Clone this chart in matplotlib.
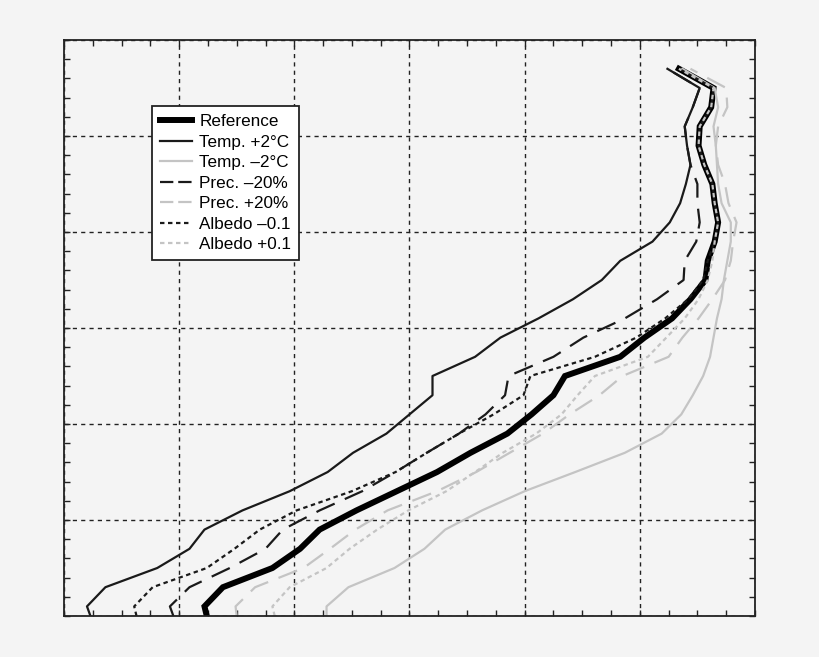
import matplotlib
matplotlib.use("Agg")
import matplotlib.pyplot as plt
from matplotlib.ticker import MultipleLocator, NullFormatter

plt.rcParams['font.family'] = ['Liberation Sans', 'DejaVu Sans']

# elevation levels (band midpoints, plus the base)
levels = [0.0, 0.1, 0.3, 0.5, 0.7, 0.9, 1.1, 1.3, 1.5, 1.7, 1.9, 2.1, 2.3, 2.5, 2.7,
          2.9, 3.1, 3.3, 3.5, 3.7, 3.9, 4.1, 4.3, 4.5, 4.7, 4.9, 5.1, 5.3, 5.5, 5.7]

reference = [1.24, 1.22, 1.38, 1.81, 2.05, 2.22, 2.54, 2.89, 3.24, 3.53, 3.85, 4.06, 4.25, 4.35, 4.83,
             5.04, 5.28, 5.44, 5.57, 5.59, 5.65, 5.68, 5.65, 5.63, 5.56, 5.51, 5.52, 5.62, 5.64, 5.34]
temp_plus2 = [0.23, 0.20, 0.36, 0.81, 1.09, 1.22, 1.55, 1.96, 2.29, 2.51, 2.80, 3.00, 3.20, 3.20, 3.57,
              3.79, 4.12, 4.42, 4.67, 4.83, 5.11, 5.26, 5.35, 5.40, 5.44, 5.41, 5.39, 5.46, 5.52, 5.24]
temp_minus2 = [2.28, 2.28, 2.47, 2.87, 3.13, 3.31, 3.63, 4.00, 4.44, 4.87, 5.19, 5.36, 5.46, 5.55, 5.61,
               5.64, 5.67, 5.71, 5.73, 5.76, 5.79, 5.79, 5.71, 5.68, 5.67, 5.66, 5.64, 5.68, 5.65, 5.37]
prec_minus20 = [0.95, 0.92, 1.09, 1.44, 1.75, 1.90, 2.22, 2.59, 2.88, 3.15, 3.43, 3.66, 3.83, 3.86, 4.25,
                4.51, 4.87, 5.15, 5.38, 5.39, 5.49, 5.52, 5.50, 5.50, 5.44, 5.41, 5.39, 5.46, 5.52, 5.24]
prec_plus20 = [1.50, 1.49, 1.66, 2.08, 2.31, 2.53, 2.81, 3.24, 3.58, 3.87, 4.16, 4.39, 4.65, 4.85, 5.25,
               5.37, 5.51, 5.63, 5.74, 5.79, 5.81, 5.84, 5.77, 5.74, 5.68, 5.66, 5.68, 5.76, 5.75, 5.44]
albedo_minus01 = [0.63, 0.61, 0.77, 1.24, 1.48, 1.70, 2.02, 2.50, 2.88, 3.15, 3.43, 3.73, 3.99, 4.05, 4.61,
                  4.97, 5.22, 5.42, 5.55, 5.59, 5.65, 5.68, 5.65, 5.63, 5.56, 5.51, 5.52, 5.62, 5.64, 5.34]
albedo_plus01 = [1.83, 1.81, 1.96, 2.28, 2.48, 2.72, 2.99, 3.32, 3.57, 3.81, 4.10, 4.32, 4.46, 4.61, 5.07,
                 5.23, 5.39, 5.51, 5.59, 5.63, 5.65, 5.68, 5.65, 5.63, 5.56, 5.51, 5.52, 5.62, 5.64, 5.34]

labels = ["Reference", "Temp. +2\u00b0C", "Temp. \u20132\u00b0C", "Prec. \u201320%",
          "Prec. +20%", "Albedo \u20130.1", "Albedo +0.1"]

bg = "#f4f4f4"
grey = "#c4c4c4"
dash = (0, (9, 5))
dot = (0, (2, 1.6))

fig = plt.figure(figsize=(8.2, 6.57), dpi=100, facecolor=bg)
ax = fig.add_axes([0.078, 0.0624, 0.8427, 0.8767], facecolor=bg)

ax.plot(reference, levels, color="black", lw=4.3, solid_joinstyle="miter", label=labels[0])
ax.plot(temp_plus2, levels, color="#1a1a1a", lw=1.6, label=labels[1])
ax.plot(temp_minus2, levels, color=grey, lw=1.6, label=labels[2])
ax.plot(prec_minus20, levels, color="#1a1a1a", lw=1.6, linestyle=dash, label=labels[3])
ax.plot(prec_plus20, levels, color=grey, lw=1.6, linestyle=dash, label=labels[4])
ax.plot(albedo_minus01, levels, color="#1a1a1a", lw=1.6, linestyle=dot, label=labels[5])
ax.plot(albedo_plus01, levels, color=grey, lw=1.6, linestyle=dot, label=labels[6])

ax.set_xlim(0, 6)
ax.set_ylim(0, 6)
ax.xaxis.set_major_locator(MultipleLocator(1))
ax.xaxis.set_minor_locator(MultipleLocator(0.25))
ax.yaxis.set_major_locator(MultipleLocator(1))
ax.yaxis.set_minor_locator(MultipleLocator(0.2))
ax.xaxis.set_major_formatter(NullFormatter())
ax.yaxis.set_major_formatter(NullFormatter())
ax.tick_params(which="both", direction="in", top=True, right=True, length=4, width=1, color="#222222")
ax.grid(True, which="major", color="#222222", linestyle=(0, (3, 3)), linewidth=1)
for s in ax.spines.values():
    s.set_linewidth(1.3)
    s.set_color("#222222")

leg = ax.legend(loc="upper left", bbox_to_anchor=(0.127, 0.885), borderaxespad=0,
                fontsize=12.3, fancybox=False, edgecolor="#222222", facecolor="white",
                framealpha=1, handlelength=1.85, handletextpad=0.45, labelspacing=0.32,
                borderpad=0.48)
leg.get_frame().set_linewidth(1.3)
# shorter dashes in the legend keys so two dashes fit
for i in (3, 4):
    leg.get_lines()[i].set_linestyle((0, (6, 2.2)))

fig.savefig("out.png", dpi=100, facecolor=bg)
